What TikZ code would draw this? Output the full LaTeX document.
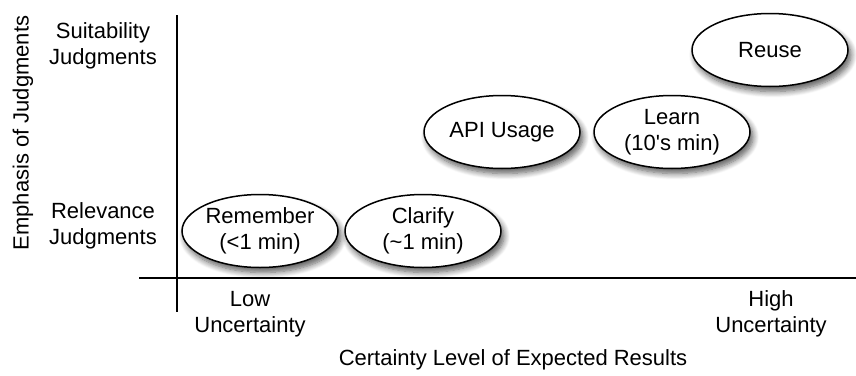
\documentclass[tikz,border=0pt]{standalone}
\usepackage{fontspec}
\setmainfont{Liberation Sans}
\newfontfamily\nolig{Liberation Sans}[Ligatures=TeXOff]
\usetikzlibrary{shapes.geometric,shadows.blur}
\begin{document}
\begin{tikzpicture}[x=0.5pt,y=-0.5pt,
  every node/.style={font=\fontsize{11}{13}\selectfont, align=center, inner sep=0pt},
  task/.style={ellipse, draw=black, line width=0.75pt, fill=white,
    minimum width=78pt, minimum height=36.5pt,
    blur shadow={shadow xshift=1.5pt, shadow yshift=-2.5pt, shadow blur steps=8, shadow blur radius=3pt, shadow opacity=65}},
  axis/.style={line width=1pt, black}]
\useasboundingbox (0,0) rectangle (856,375);
% axes
\coordinate (ytop) at (177,15);
\coordinate (ybot) at (177,312);
\coordinate (xl) at (139,278);
\coordinate (xr) at (856,278);
\draw[axis] (ytop) -- (ybot);
\draw[axis] (xl) -- (xr);
% axis labels
\node[rotate=90] (ylab) at (23,133) {Emphasis of Judgments};
\node (suit) at (103,46) {Suitability\\Judgments};
\node (rel) at (103,226) {Relevance\\Judgments};
\node (low) at (250,314) {Low\\Uncertainty};
\node (high) at (771,314) {High\\Uncertainty};
\node (xlab) at (513,360) {Certainty Level of Expected Results};
% tasks
\node[task] (remember) at (260,231) {Remember\\(<1 min)};
\node[task] (clarify) at (423,231) {Clarify\\(\textasciitilde1 min)};
\node[task] (api) at (502,132) {API Usage};
\node[task] (learn) at (672,132) {Learn\\({\nolig 10's} min)};
\node[task] (reuse) at (770,50) {Reuse};
\end{tikzpicture}
\end{document}
